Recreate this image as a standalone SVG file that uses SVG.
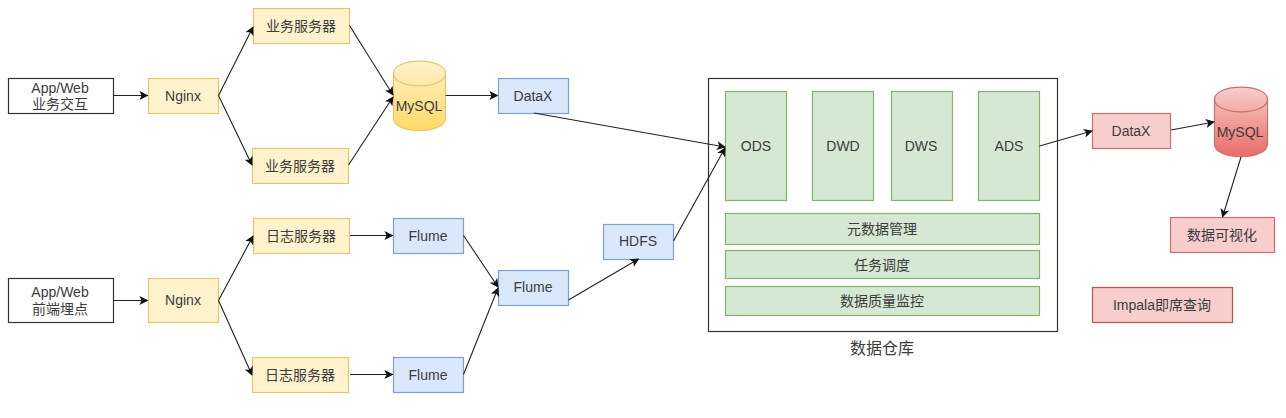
<svg xmlns="http://www.w3.org/2000/svg" width="1286" height="418" viewBox="0 0 1286 418">
<style>
text{font-family:"Liberation Sans","Noto Sans CJK SC",sans-serif;font-size:14px;fill:#3c3c3c;text-anchor:middle}
.w{fill:#fff;stroke:#333;stroke-width:1.2}
.y{fill:#fff2cc;stroke:#e3c76f;stroke-width:1.2}
.b{fill:#dae8fc;stroke:#7f9fcf;stroke-width:1.2}
.g{fill:#d5e8d4;stroke:#82b366;stroke-width:1.2}
.r{fill:#f8cecc;stroke:#c87070;stroke-width:1.2}
.c{fill:none;stroke:#222;stroke-width:1.1;marker-end:url(#a)}
</style>
<defs>
<marker id="a" viewBox="0 0 10 10" refX="9" refY="5" markerWidth="9" markerHeight="9" markerUnits="userSpaceOnUse" orient="auto"><path d="M0 0L10 5L0 10L2.500 5Z" fill="#111"/></marker>
<linearGradient id="gy" x1="0" y1="0" x2="0" y2="1"><stop offset="0" stop-color="#fff2cc"/><stop offset="1" stop-color="#ffd966"/></linearGradient>
<linearGradient id="gr" x1="0" y1="0" x2="0" y2="1"><stop offset="0" stop-color="#f8cecc"/><stop offset="1" stop-color="#ea6b66"/></linearGradient>
</defs>
<g id="app1"><rect class="w" x="8.500" y="78.500" width="105" height="35"/><text x="60" y="92.500">App/Web</text><text x="60" y="108.500">业务交互</text></g>
<g id="nginx1"><rect class="y" x="148.500" y="78.500" width="70" height="35"/><text x="183" y="101">Nginx</text></g>
<g id="biz1"><rect class="y" x="253.500" y="8.500" width="96" height="35"/><text x="301" y="31">业务服务器</text></g>
<g id="biz2"><rect class="y" x="252.500" y="148.500" width="96" height="35"/><text x="300" y="170.500">业务服务器</text></g>
<g id="mysql1"><path d="M393.500 73.500C393.500 57 445.500 57 445.500 73.500V118C445.500 135 393.500 135 393.500 118Z" fill="url(#gy)" stroke="#e3c76f" stroke-width="1.200"/><path d="M393.500 73.500C393.500 90 445.500 90 445.500 73.500" fill="none" stroke="#e3c76f" stroke-width="1.200"/><text x="419" y="111">MySQL</text></g>
<g id="datax1"><rect class="b" x="498.500" y="78.500" width="70" height="35"/><text x="533" y="100.500">DataX</text></g>
<g id="app2"><rect class="w" x="8.500" y="278.500" width="105" height="44"/><text x="60" y="297">App/Web</text><text x="60" y="314">前端埋点</text></g>
<g id="nginx2"><rect class="y" x="148.500" y="278.500" width="70" height="44"/><text x="183" y="305">Nginx</text></g>
<g id="log1"><rect class="y" x="253.500" y="218.500" width="96" height="35"/><text x="301" y="240.500">日志服务器</text></g>
<g id="log2"><rect class="y" x="252.500" y="357.500" width="96" height="35"/><text x="300" y="379.500">日志服务器</text></g>
<g id="flume1"><rect class="b" x="393.500" y="218.500" width="70" height="35"/><text x="428" y="240.500">Flume</text></g>
<g id="flume2"><rect class="b" x="393.500" y="357.500" width="70" height="35"/><text x="428" y="379.500">Flume</text></g>
<g id="flume3"><rect class="b" x="498.500" y="270.500" width="70" height="35"/><text x="533" y="292">Flume</text></g>
<g id="hdfs"><rect class="b" x="603.500" y="224.500" width="70" height="35"/><text x="638" y="246">HDFS</text></g>
<g id="dw"><rect x="708.500" y="78.500" width="349" height="253" fill="#fff" stroke="#333" stroke-width="1.200"/><text x="882" y="354" style="font-size:16px">数据仓库</text></g>
<g id="ods"><rect class="g" x="725.500" y="91.500" width="61" height="109"/><text x="756" y="151">ODS</text></g>
<g id="dwd"><rect class="g" x="812.500" y="91.500" width="61" height="109"/><text x="843" y="151">DWD</text></g>
<g id="dws"><rect class="g" x="891.500" y="91.500" width="61" height="109"/><text x="921" y="151">DWS</text></g>
<g id="ads"><rect class="g" x="978.500" y="91.500" width="61" height="109"/><text x="1009" y="151">ADS</text></g>
<g id="meta"><rect class="g" x="725.500" y="213.500" width="314" height="31"/><text x="882" y="234">元数据管理</text></g>
<g id="sched"><rect class="g" x="725.500" y="250.500" width="314" height="28"/><text x="882" y="270">任务调度</text></g>
<g id="quality"><rect class="g" x="725.500" y="286.500" width="314" height="29"/><text x="882" y="306">数据质量监控</text></g>
<g id="datax2"><rect class="r" x="1092.500" y="113.500" width="78" height="35"/><text x="1131" y="136">DataX</text></g>
<g id="mysql2"><path d="M1214.500 99.500C1214.500 83 1267.500 83 1267.500 99.500V144C1267.500 161 1214.500 161 1214.500 144Z" fill="url(#gr)" stroke="#c87070" stroke-width="1.200"/><path d="M1214.500 99.500C1214.500 116 1267.500 116 1267.500 99.500" fill="none" stroke="#c87070" stroke-width="1.200"/><text x="1240" y="137">MySQL</text></g>
<g id="viz"><rect class="r" x="1170.500" y="217.500" width="104" height="35"/><text x="1222" y="240">数据可视化</text></g>
<g id="impala"><rect class="r" x="1092.500" y="287.500" width="140" height="35" style="stroke:#b85450"/><text x="1162" y="310">Impala即席查询</text></g>
<g id="connectors">
<path class="c" d="M113.500 95.500H147.500"/>
<path class="c" d="M218.500 95.500L253 27"/>
<path class="c" d="M218.500 95.500L252 165"/>
<path class="c" d="M349.500 25.500L393 95"/>
<path class="c" d="M348.500 165L393 97"/>
<path class="c" d="M445.500 95.500H497.500"/>
<path class="c" d="M534 113L725 147"/>
<path class="c" d="M113.500 300.500H147.500"/>
<path class="c" d="M218.500 300.500L253 236"/>
<path class="c" d="M218.500 300.500L252 375"/>
<path class="c" d="M350 235.500H392.500"/>
<path class="c" d="M350 374.500H392.500"/>
<path class="c" d="M463.500 235.500L498 287"/>
<path class="c" d="M463.500 374.500L498 288"/>
<path class="c" d="M568.500 300L638.500 259"/>
<path class="c" d="M673.500 241L725 148"/>
<path class="c" d="M1039.500 146L1092 131"/>
<path class="c" d="M1171 130L1214 122"/>
<path class="c" d="M1241 157L1222.500 217"/>
</g>
</svg>
